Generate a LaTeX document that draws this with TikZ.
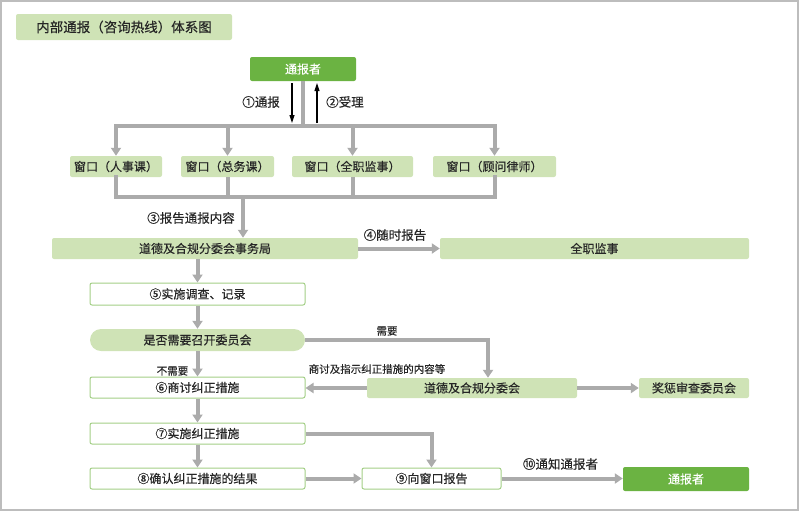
\documentclass[tikz,border=0pt]{standalone}
\usepackage{fontspec}
\setmainfont{Noto Sans CJK SC}[UprightFeatures={FakeBold=0.4}]
\usetikzlibrary{arrows.meta}
\definecolor{lgreen}{HTML}{CFE3B6}
\definecolor{dgreen}{HTML}{6BB342}
\definecolor{bgreen}{HTML}{A3CF86}
\definecolor{gray1}{HTML}{ABABAB}
\definecolor{txt}{HTML}{262626}
\definecolor{framec}{HTML}{BDBDBD}
\begin{document}
\begin{tikzpicture}[x=1pt,y=-1pt,
  box/.style={rounded corners=2pt, inner sep=0pt, font=\fontsize{12}{14}\selectfont, text=txt},
  lg/.style={box, fill=lgreen},
  wb/.style={box, fill=white, draw=bgreen, line width=1pt},
  dg/.style={box, fill=dgreen, text=white},
  pill/.style={box, fill=lgreen, rounded corners=11pt},
  gline/.style={draw=gray1, line width=4pt},
  garr/.style={gline, -{Triangle[width=10pt,length=8pt]}},
  barr/.style={draw=black, line width=1.1pt, -{Triangle[width=5pt,length=8pt]}},
  lab/.style={inner sep=0pt, text=txt, font=\fontsize{12.5}{14}\selectfont},
  slab/.style={inner sep=0pt, text=txt, font=\fontsize{10.5}{12}\selectfont}
]
\useasboundingbox (0,0) rectangle (800,512);
\draw[framec, line width=1.5pt] (1,1) rectangle (798,510);

% nodes
\node[lg, minimum width=216, minimum height=26, font=\fontsize{13.5}{15}\selectfont] (title) at (124,27) {内部通报（咨询热线）体系图};
\node[dg, minimum width=106, minimum height=24] (tb) at (303,69) {通报者};
\node[lg, minimum width=92, minimum height=21] (w1) at (116,166.5) {窗口（人事课）};
\node[lg, minimum width=93, minimum height=21] (w2) at (227.5,166.5) {窗口（总务课）};
\node[lg, minimum width=121, minimum height=21] (w3) at (352.5,166.5) {窗口（全职监事）};
\node[lg, minimum width=123, minimum height=21] (w4) at (494.5,166.5) {窗口（顾问律师）};
\node[lg, minimum width=306, minimum height=21] (jw) at (205,248.5) {道德及合规分委会事务局};
\node[lg, minimum width=309, minimum height=21] (kj) at (594.5,248.5) {全职监事};
\node[wb, minimum width=215, minimum height=22] (s5) at (197.5,294) {⑤实施调查、记录};
\node[pill, minimum width=215, minimum height=22] (q) at (197.5,340) {是否需要召开委员会};
\node[wb, minimum width=215, minimum height=21] (s6) at (197.5,387.5) {⑥商讨纠正措施};
\node[lg, minimum width=210, minimum height=20] (fw) at (472,388) {道德及合规分委会};
\node[lg, minimum width=110, minimum height=20] (jc) at (694,388) {奖惩审查委员会};
\node[wb, minimum width=215, minimum height=21] (s7) at (197.5,433.5) {⑦实施纠正措施};
\node[wb, minimum width=215, minimum height=21] (s8) at (197.5,478.5) {⑧确认纠正措施的结果};
\node[wb, minimum width=139, minimum height=21] (s9) at (431.5,478.5) {⑨向窗口报告};
\node[dg, minimum width=126, minimum height=24] (tb2) at (686,479) {通报者};

% top bus
\coordinate (tbus) at (0,126);
\draw[gline] (tb.south) -- (tb.south |- tbus);
\draw[gline, line cap=rect] (w1.north |- tbus) -- (w4.north |- tbus);
\foreach \w in {w1,w2,w3,w4} \draw[garr] (\w.north |- tbus) -- (\w.north);

% black arrows
\coordinate (a1t) at (292,83); \coordinate (a1b) at (292,123);
\coordinate (a2t) at (317,83); \coordinate (a2b) at (317,123);
\draw[barr] (a1t) -- (a1b);
\draw[barr] (a2b) -- (a2t);
\node[lab, anchor=east] (l1) at (280,102) {①通报};
\node[lab, anchor=west] (l2) at (326,102) {②受理};

% lower bus
\coordinate (lbus) at (0,197);
\draw[gline, line cap=rect] (w1.south) -- (w1.south |- lbus) -- (w4.south |- lbus) -- (w4.south);
\draw[gline] (w2.south) -- (w2.south |- lbus);
\draw[gline] (w3.south) -- (w3.south |- lbus);
\coordinate (j3) at ([xshift=38pt]jw.north);
\draw[garr] (j3 |- lbus) -- (j3);
\node[lab] (l3) at (191,218) {③报告通报内容};

% main flow
\draw[garr] (jw.east) -- (kj.west);
\node[lab] (l4) at (395,235) {④随时报告};
\draw[garr] (jw.south -| s5.north) -- (s5.north);
\draw[garr] (s5.south) -- (q.north);
\draw[garr] (q.south) -- (s6.north);
\node[slab] (l6) at (172.5,371) {不需要};
\coordinate (fwin) at ([xshift=16pt]fw.north);
\draw[garr] (q.east) -- (q.east -| fwin) -- (fwin);
\node[slab] (l5) at (387,331) {需要};
\draw[garr] (fw.west) -- (s6.east |- fw.west);
\node[slab] (l7) at (377,369) {商讨及指示纠正措施的内容等};
\draw[garr] (fw.east) -- (jc.west);
\draw[garr] (s6.south) -- (s7.north);
\draw[garr] (s7.south) -- (s8.north);
\draw[garr] (s7.east) -- (s7.east -| s9.north) -- (s9.north);
\draw[garr] (s8.east) -- (s9.west);
\draw[garr] (s9.east) -- (tb2.west |- s9.east);
\node[lab] (l10) at (560.5,464) {⑩通知通报者};
\end{tikzpicture}
\end{document}
